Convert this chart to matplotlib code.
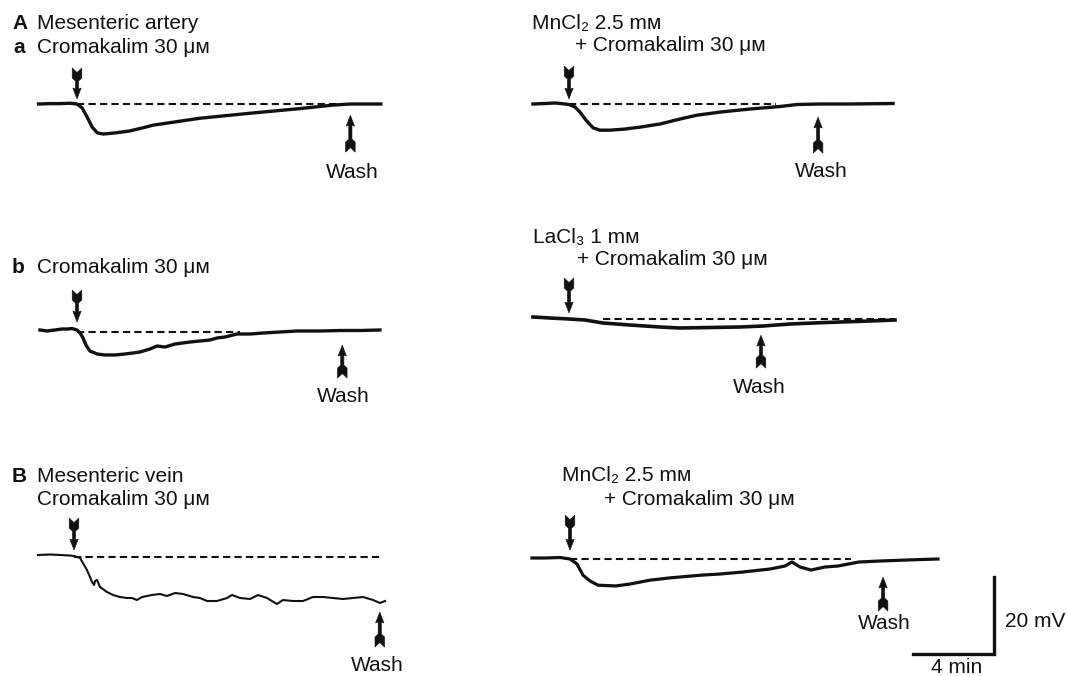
import matplotlib
matplotlib.use("Agg")
import matplotlib.pyplot as plt
from matplotlib.patches import Polygon

plt.rcParams['font.family'] = ['Liberation Sans', 'DejaVu Sans']

W, H = 1067, 676
PXMIN = 20.25   # pixels per minute
PXMV = 3.85     # pixels per mV

# traces: time (min, 0 = drug applied), membrane potential (mV, 0 = resting level)
aa_ctrl_t = [-1.9, -1.3, -0.85, -0.35, 0, 0.25, 0.5, 0.75, 1.0, 1.3, 1.9, 2.6, 3.4, 3.75, 6.07, 8.54, 11.0, 12.6, 13.5, 15.0]
aa_ctrl_v = [0, 0.1, 0.1, 0.2, 0, -1.0, -3.4, -6.0, -7.5, -7.8, -7.5, -7.0, -6.0, -5.5, -3.7, -2.4, -1.2, -0.3, 0, 0]

aa_mn_t = [-1.78, -1.19, -0.69, -0.2, 0, 0.3, 0.54, 0.84, 1.19, 1.53, 2.02, 2.77, 3.51, 4.49, 5.48, 6.32, 7.46, 8.94, 10.42, 11.26, 12.4, 13.88, 16.0]
aa_mn_v = [0, 0.13, 0.26, 0, -0.13, -0.78, -2.1, -4.2, -6.2, -6.8, -6.8, -6.5, -6.0, -5.2, -3.9, -2.9, -2.1, -1.3, -0.65, -0.13, 0, 0, 0.13]

ab_ctrl_t = [-1.83, -1.48, -1.09, -0.74, -0.44, -0.25, 0, 0.15, 0.3, 0.44, 0.64, 0.99, 1.38, 1.88, 2.37, 2.77, 3.11, 3.6,
             3.95, 4.35, 4.84, 5.58, 6.07, 6.57, 6.91, 7.31, 7.9, 8.54, 9.19, 10.02, 10.86, 12.0, 12.99, 13.98, 14.96]
ab_ctrl_v = [0.52, 0.26, 0.52, 0.78, 0.78, 0.91, 0.52, -0.26, -1.56, -3.38, -4.94, -5.71, -5.97, -5.97, -5.71, -5.45, -5.19, -4.42,
             -3.64, -3.9, -3.12, -2.6, -2.34, -2.08, -1.56, -1.3, -0.52, -0.52, -0.26, 0, 0.26, 0.26, 0.39, 0.39, 0.52]

ab_la_t = [-1.78, -0.94, 0, 0.79, 1.68, 3.01, 4.49, 5.48, 6.96, 8.44, 9.58, 10.91, 12.05, 13.38, 14.86, 16.1]
ab_la_v = [0.52, 0.26, 0, -0.26, -1.04, -1.56, -2.08, -2.34, -2.21, -2.08, -1.82, -1.3, -1.04, -0.78, -0.52, -0.26]

b_ctrl_t = [-1.78, -1.19, -0.69, -0.2, 0, 0.3, 0.44, 0.64, 0.79, 0.89, 0.99, 1.04, 1.14, 1.28, 1.63, 1.93, 2.27, 2.62,
            2.86, 3.11, 3.36, 3.85, 4.25, 4.59, 4.99, 5.38, 5.88, 6.22, 6.57, 7.06, 7.56, 7.8, 8.2, 8.69, 9.09, 9.53,
            10.02, 10.32, 10.81, 11.31, 11.8, 12.3, 12.79, 13.28, 13.78, 14.27, 14.77, 15.11, 15.36]
b_ctrl_v = [0.52, 0.65, 0.52, 0.39, 0.26, -0.26, -1.56, -3.38, -5.19, -6.49, -7.27, -6.23, -5.97, -7.79, -9.09, -9.87, -10.39, -10.65,
            -10.65, -11.17, -10.39, -9.87, -9.61, -10.13, -9.35, -9.61, -10.39, -10.65, -11.43, -11.43, -10.65, -9.87, -10.65, -10.91, -9.87, -10.65,
            -12.21, -11.17, -11.43, -11.43, -10.39, -10.39, -10.65, -10.91, -10.65, -10.39, -11.17, -11.95, -11.43]

b_mn_t = [-1.88, -1.23, -0.49, 0, 0.35, 0.64, 0.99, 1.38, 2.27, 2.96, 3.95, 4.94, 6.47, 7.41, 8.49, 9.88, 10.62, 10.96,
          11.36, 11.9, 12.59, 13.23, 14.27, 15.31, 16.64, 18.17]
b_mn_v = [0.26, 0.26, 0.39, 0, -1.3, -4.2, -5.7, -6.8, -7.0, -6.5, -5.5, -4.9, -4.2, -3.9, -3.4, -2.6, -1.82, -0.78,
          -2.08, -2.86, -2.08, -1.82, -0.78, -0.52, -0.26, 0]

# dashed resting line (min), wash time (min) and tip levels of the marker arrows (mV)
dash_start = [0, 0, 0, 1.68, 0, 0]
dash_end = [13.0, 10.2, 8.05, 16.1, 15.26, 13.9]
wash_t = [13.5, 12.3, 13.1, 9.48, 15.1, 15.46]
wash_v = [-2.9, -3.4, -3.4, -4.2, -14.3, -4.7]
drug_tip_v = [1.3, 1.3, 2.6, 1.56, 1.8, 2.3]

scale_min = 4
scale_mv = 20

traces = [(aa_ctrl_t, aa_ctrl_v), (aa_mn_t, aa_mn_v), (ab_ctrl_t, ab_ctrl_v),
          (ab_la_t, ab_la_v), (b_ctrl_t, b_ctrl_v), (b_mn_t, b_mn_v)]

# layout: pixel position of (t=0, V=0) for each panel
origins = [(77, 104), (569, 104), (77, 332), (569, 319), (74, 557), (570, 559)]
drug_len = [31, 33, 32, 35, 32, 35]
wash_len = [37, 36, 33, 33, 35, 34]
trace_lw = [2.4, 2.4, 2.4, 2.6, 1.5, 2.3]

fig = plt.figure(figsize=(W / 100, H / 100), dpi=100)


def panel_axes(ox, oy):
    x0, x1, y0, y1 = -3, 28, -30, 12
    left = (ox + x0 * PXMIN) / W
    bottom = 1 - (oy - y0 * PXMV) / H
    ax = fig.add_axes([left, bottom, (x1 - x0) * PXMIN / W, (y1 - y0) * PXMV / H])
    ax.set_xlim(x0, x1)
    ax.set_ylim(y0, y1)
    ax.axis('off')
    ax.patch.set_alpha(0)
    return ax


def arrow(ax, t, v, L, up=False):
    # feathered marker arrow, shape in pixels relative to the tip
    pts = [(0, 0), (4.2, 11), (1.6, 10), (1.6, L - 13), (4.8, L - 10), (4.8, L), (0, L - 4.5),
           (-4.8, L), (-4.8, L - 10), (-1.6, L - 13), (-1.6, 10), (-4.2, 11)]
    s = -1 if up else 1
    xy = [(t + px / PXMIN, v + s * py / PXMV) for px, py in pts]
    ax.add_patch(Polygon(xy, closed=True, fc='#111111', ec='#111111', lw=0.4, clip_on=False))


for i, (t, v) in enumerate(traces):
    ax = panel_axes(*origins[i])
    ax.plot(t, v, color='#111111', lw=trace_lw[i], solid_joinstyle='round', clip_on=False)
    ax.plot([dash_start[i], dash_end[i]], [0, 0], color='#111111', lw=1.5,
            dashes=(3.5, 2), clip_on=False)
    arrow(ax, 0, drug_tip_v[i], drug_len[i])
    arrow(ax, wash_t[i], wash_v[i], wash_len[i], up=True)
    if i == 5:
        cx, cy = 20.94, -24.7
        ax.plot([cx - scale_min, cx, cx], [cy, cy, cy + scale_mv], color='#111111', lw=2.4,
                solid_joinstyle='miter', clip_on=False)


def label(x, y, s, ha='left', bold=False):
    fig.text(x / W, 1 - y / H, s, ha=ha, va='baseline', fontsize=15,
             fontweight='bold' if bold else 'normal', color='#111111')


label(12, 29, 'A', bold=True)
label(37, 29, 'Mesenteric artery')
label(13, 53, 'a', bold=True)
label(37, 53, 'Cromakalim 30 μᴍ')
label(532, 29, 'MnCl₂ 2.5 mᴍ')
label(575, 51, '+ Cromakalim 30 μᴍ')

label(12, 273, 'b', bold=True)
label(37, 273, 'Cromakalim 30 μᴍ')
label(533, 243, 'LaCl₃ 1 mᴍ')
label(577, 265, '+ Cromakalim 30 μᴍ')

label(12, 482, 'B', bold=True)
label(37, 482, 'Mesenteric vein')
label(37, 505, 'Cromakalim 30 μᴍ')
label(562, 481, 'MnCl₂ 2.5 mᴍ')
label(604, 505, '+ Cromakalim 30 μᴍ')

for x, y in [(352, 178), (821, 177), (343, 402), (759, 393), (377, 671), (884, 629)]:
    label(x, y, 'Wash', ha='center')

label(1005, 627, '20 mV')
label(957, 673, '4 min', ha='center')

fig.savefig('out.png', dpi=100, facecolor='white')
